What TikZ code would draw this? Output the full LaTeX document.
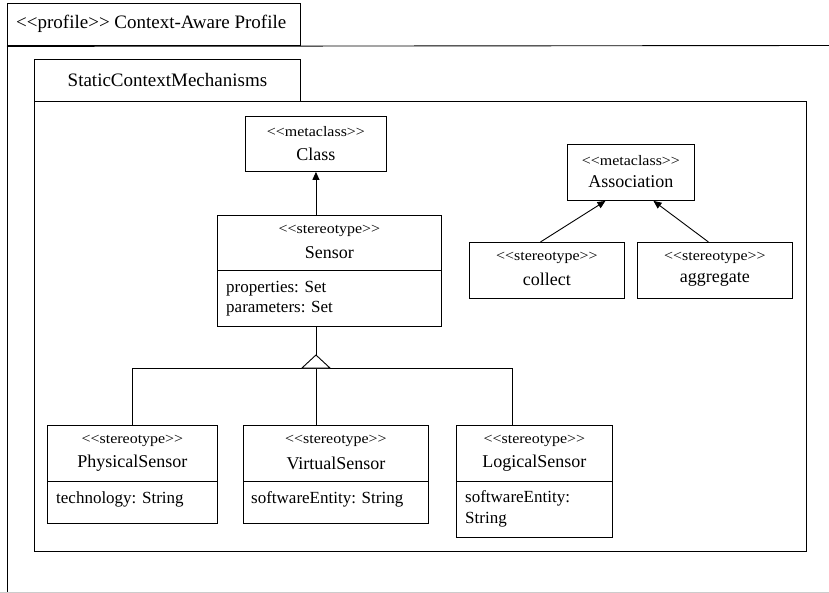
\documentclass[tikz,border=0pt]{standalone}
\usepackage{fontspec}
\setmainfont{Liberation Serif}
\newfontfamily\namefont{Liberation Serif}
\newfontfamily\stfont[FakeStretch=1.1]{Liberation Serif}
\newfontfamily\titlefont{Liberation Serif}
\usetikzlibrary{arrows.meta,calc}
% guillemet-free stereotype brackets
\newcommand{\ltlt}{\textless\kern0pt\textless}
\newcommand{\gtgt}{\textgreater\kern0pt\textgreater}
\newcommand{\stereo}[1]{\ltlt#1\gtgt}

\begin{document}
\begin{tikzpicture}[x=1pt,y=-1pt,
  lw/.style={line width=0.9pt},
  frame/.style={draw,lw},
  umlbox/.style={draw,lw,inner sep=0pt,anchor=north west,fill=white},
  sttext/.style={inner sep=0pt,font=\stfont\fontsize{14.5}{16}\selectfont},
  nametext/.style={inner sep=0pt,font=\namefont\fontsize{18}{21}\selectfont},
  attrtext/.style={inner sep=0pt,anchor=west,align=left,
    font=\namefont\fontsize{17}{21}\selectfont},
  pkgtext/.style={inner sep=0pt,font=\titlefont\fontsize{19}{22}\selectfont},
  extends/.style={lw,-{Triangle[length=8pt,width=7pt]}},
  genline/.style={lw}
]
\useasboundingbox (0,0) rectangle (829,593);

% outer profile package
\node[umlbox,minimum width=293pt,minimum height=42.5pt] (proftab) at (7,3) {};
\node[pkgtext,anchor=west] (proftitle) at (16,24) {\stereo{profile} Context-Aware Profile};
\draw[frame] (proftab.south west) -- (829,45.5);
\draw[frame] (proftab.south west) -- (7,593);
\draw[line width=1pt,black!20] (0,592) -- (829,592);

% inner package
\node[umlbox,minimum width=266pt,minimum height=42pt] (pkgtab) at (34,59) {};
\node[pkgtext] (pkgtitle) at (pkgtab.center) {StaticContextMechanisms};
\node[umlbox,minimum width=772pt,minimum height=450pt] (pkg) at (34,101) {};

% metaclass Class
\node[umlbox,minimum width=141pt,minimum height=55pt] (class) at (245,116) {};
\node[sttext] at ($(class.north)+(0,16)$) {\stereo{metaclass}};
\node[nametext] at ($(class.north)+(0,38)$) {Class};

% Sensor
\node[umlbox,minimum width=224pt,minimum height=111pt] (sensor) at (217,215) {};
\node[sttext] at ($(sensor.north)+(0,16)$) {\stereo{stereotype}};
\node[nametext] at ($(sensor.north)+(0,38)$) {Sensor};
\draw[lw] ($(sensor.north west)+(0,55)$) -- ($(sensor.north east)+(0,55)$);
\node[attrtext] at ($(sensor.north west)+(9,74)$) {properties: Set};
\node[attrtext] at ($(sensor.north west)+(9,94)$) {parameters: Set};

% metaclass Association
\node[umlbox,minimum width=127pt,minimum height=56pt] (assoc) at (567,144) {};
\node[sttext] at ($(assoc.north)+(0,17)$) {\stereo{metaclass}};
\node[nametext] at ($(assoc.north)+(0,38)$) {Association};

% collect and aggregate
\node[umlbox,minimum width=155pt,minimum height=56pt] (collect) at (469,242) {};
\node[sttext] at ($(collect.north)+(0,16)$) {\stereo{stereotype}};
\node[nametext] at ($(collect.north)+(0,37)$) {collect};
\node[umlbox,minimum width=155pt,minimum height=56pt] (aggregate) at (637,242) {};
\node[sttext] at ($(aggregate.north)+(0,16)$) {\stereo{stereotype}};
\node[nametext] at ($(aggregate.north)+(0,37)$) {aggregate};

% extensions
\draw[extends] (sensor.north -| class.south) -- (class.south);
\draw[extends] ([xshift=-6.5pt]collect.north) -- ([xshift=-25.5pt]assoc.south);
\draw[extends] ([xshift=-6.5pt]aggregate.north) -- ([xshift=22.5pt]assoc.south);

% sub-sensors
\node[umlbox,minimum width=170pt,minimum height=98pt] (phys) at (47,425) {};
\node[sttext] at ($(phys.north)+(0,16)$) {\stereo{stereotype}};
\node[nametext] at ($(phys.north)+(0,38)$) {PhysicalSensor};
\draw[lw] ($(phys.north west)+(0,56)$) -- ($(phys.north east)+(0,56)$);
\node[attrtext] at ($(phys.north west)+(9,74)$) {technology: String};

\node[umlbox,minimum width=185pt,minimum height=98pt] (virt) at (243,425) {};
\node[sttext] at ($(virt.north)+(0,16)$) {\stereo{stereotype}};
\node[nametext] at ($(virt.north)+(0,38)$) {VirtualSensor};
\draw[lw] ($(virt.north west)+(0,56)$) -- ($(virt.north east)+(0,56)$);
\node[attrtext] at ($(virt.north west)+(8,74)$) {softwareEntity: String};

\node[umlbox,minimum width=156pt,minimum height=112pt] (logic) at (456,425) {};
\node[sttext] at ($(logic.north)+(0,16)$) {\stereo{stereotype}};
\node[nametext] at ($(logic.north)+(0,38)$) {LogicalSensor};
\draw[lw] ($(logic.north west)+(0,56)$) -- ($(logic.north east)+(0,56)$);
\node[attrtext] at ($(logic.north west)+(9,84)$) {softwareEntity:\\String};

% generalization tree
\coordinate (apex) at (class.south |- 0,355);
\coordinate (busL) at (phys.north |- 0,368);
\coordinate (busR) at (512,368);
\draw[genline] (sensor.south -| apex) -- (apex);
\draw[genline] (busL) -- (busR);
\draw[genline] (busL) -- (phys.north);
\draw[genline] (apex |- busL) -- (virt.north -| apex);
\draw[genline] (busR) -- (logic.north -| busR);
\draw[genline,fill=white] (apex) -- ++(-14,13) -- ++(28,0) -- cycle;
\end{tikzpicture}
\end{document}
